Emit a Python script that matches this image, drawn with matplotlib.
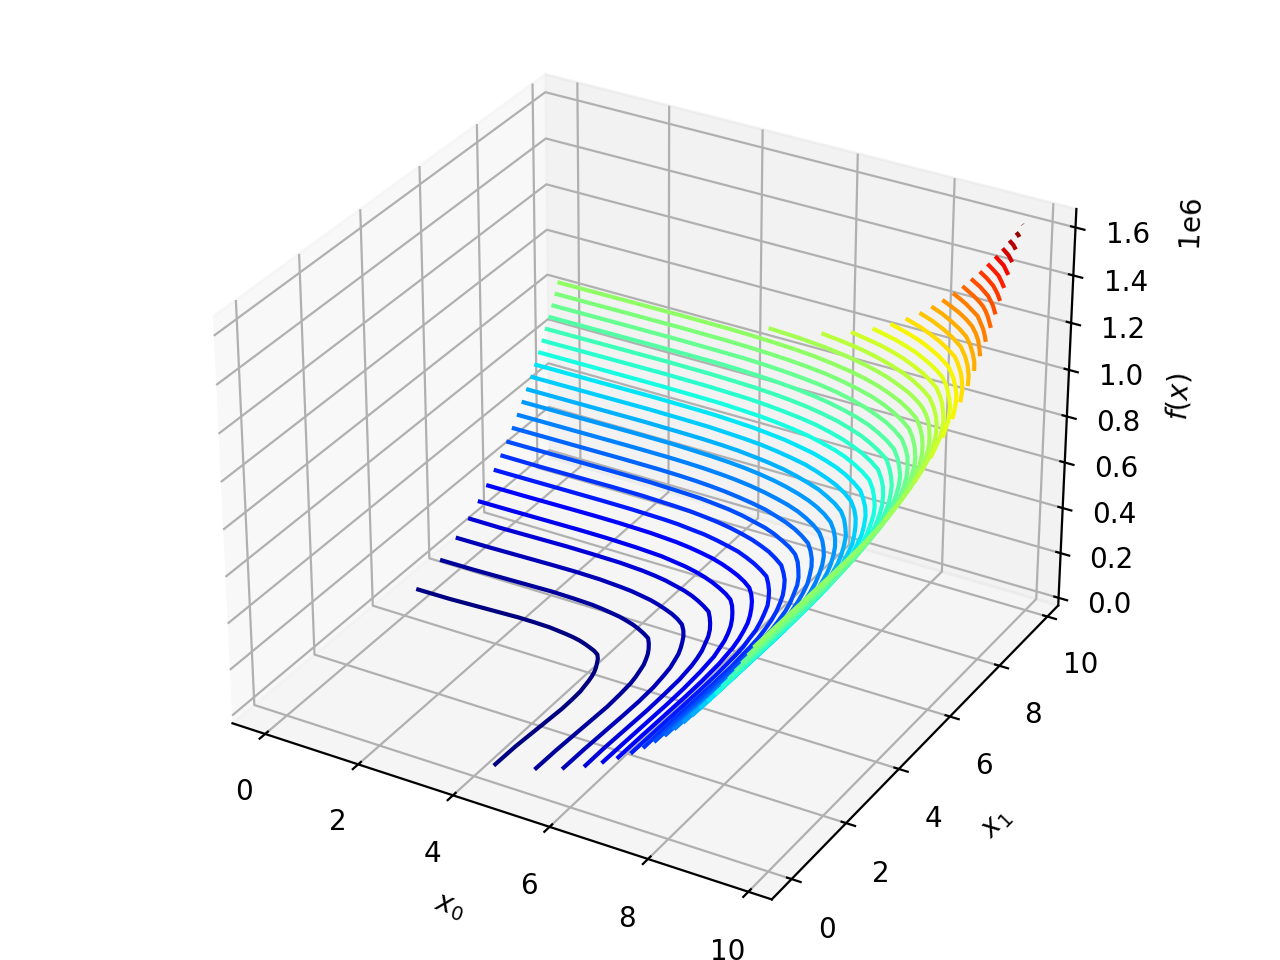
import matplotlib
matplotlib.use('Agg')
import matplotlib.pyplot as plt

# (x0, x1) points along each contour of f(x).
# The contours are symmetric about x0 = x1, so only the half with x0 <= x1 is kept.
c04 = [(0.00,4.42),(0.73,4.43),(2.20,4.51),(2.56,4.51),(2.88,4.50),(3.26,4.45),(3.43,4.42),(3.59,4.38),(3.73,4.33),(3.87,4.27),(4.00,4.21),(4.12,4.13)]
c08 = [(0.00,5.27),(0.74,5.28),(2.42,5.34),(2.89,5.33),(3.31,5.31),(3.54,5.28),(3.76,5.24),(3.97,5.20),(4.16,5.14),(4.33,5.08),(4.50,5.00),(4.66,4.91),(4.81,4.81)]
c12 = [(0.00,5.84),(0.73,5.85),(2.07,5.89),(2.59,5.90),(3.14,5.89),(3.61,5.85),(3.87,5.82),(4.11,5.77),(4.34,5.72),(4.55,5.65),(4.75,5.57),(4.93,5.49),(5.10,5.39),(5.26,5.27)]
c16 = [(0.00,6.29),(0.72,6.29),(2.15,6.33),(2.72,6.33),(3.33,6.32),(3.84,6.28),(4.12,6.24),(4.38,6.19),(4.62,6.12),(4.86,6.05),(5.08,5.96),(5.27,5.86),(5.45,5.75),(5.62,5.63)]
c20 = [(0.00,6.65),(0.71,6.66),(2.21,6.69),(2.83,6.69),(3.48,6.67),(4.04,6.63),(4.33,6.58),(4.61,6.53),(4.87,6.46),(5.11,6.38),(5.34,6.28),(5.55,6.17),(5.75,6.05),(5.92,5.92)]
c24 = [(0.00,6.96),(0.83,6.97),(2.36,7.00),(2.92,7.00),(3.61,6.98),(4.20,6.93),(4.52,6.88),(4.80,6.82),(5.08,6.75),(5.33,6.66),(5.56,6.56),(5.78,6.45),(5.99,6.32),(6.17,6.18)]
c28 = [(0.00,7.24),(0.83,7.25),(2.39,7.27),(3.00,7.27),(3.73,7.25),(4.05,7.23),(4.34,7.19),(4.66,7.15),(4.97,7.08),(5.26,7.00),(5.52,6.92),(5.76,6.81),(5.99,6.69),(6.21,6.55),(6.40,6.41)]
c32 = [(0.00,7.49),(0.84,7.49),(2.43,7.52),(3.09,7.52),(3.84,7.49),(4.17,7.47),(4.49,7.43),(4.82,7.38),(5.14,7.31),(5.42,7.23),(5.69,7.14),(5.94,7.03),(6.18,6.91),(6.39,6.77),(6.60,6.61)]
c36 = [(0.00,7.71),(0.84,7.72),(2.46,7.74),(3.16,7.74),(3.94,7.71),(4.28,7.69),(4.60,7.65),(4.94,7.60),(5.26,7.53),(5.56,7.44),(5.85,7.35),(6.10,7.24),(6.35,7.10),(6.58,6.96),(6.78,6.80)]
c40 = [(0.00,7.92),(2.50,7.95),(3.22,7.95),(3.65,7.94),(4.03,7.92),(4.38,7.89),(4.71,7.85),(5.06,7.79),(5.39,7.72),(5.70,7.64),(5.99,7.53),(6.26,7.42),(6.51,7.29),(6.74,7.14),(6.96,6.97)]
c44 = [(0.00,8.11),(2.53,8.14),(3.29,8.14),(3.73,8.13),(4.12,8.11),(4.48,8.08),(4.82,8.04),(5.17,7.98),(5.52,7.90),(5.83,7.81),(6.13,7.71),(6.41,7.59),(6.66,7.45),(6.89,7.30),(7.11,7.12)]
c48 = [(0.00,8.29),(2.55,8.32),(3.34,8.32),(3.80,8.30),(4.20,8.28),(4.58,8.25),(4.92,8.21),(5.28,8.15),(5.64,8.07),(5.95,7.98),(6.26,7.87),(6.54,7.75),(6.80,7.61),(7.04,7.45),(7.26,7.27)]
c52 = [(0.00,8.46),(2.59,8.49),(3.40,8.48),(3.87,8.47),(4.28,8.45),(4.66,8.42),(5.02,8.37),(5.39,8.31),(5.75,8.23),(6.08,8.13),(6.38,8.02),(6.67,7.90),(6.93,7.75),(7.18,7.59),(7.40,7.41)]
c56 = [(0.00,8.62),(2.61,8.65),(3.45,8.64),(3.92,8.63),(4.34,8.60),(4.73,8.57),(5.09,8.53),(5.48,8.46),(5.83,8.38),(6.17,8.29),(6.48,8.17),(6.77,8.04),(7.04,7.90),(7.30,7.73),(7.53,7.54)]
c60 = [(0.00,8.77),(2.64,8.80),(3.50,8.79),(3.98,8.78),(4.41,8.75),(4.81,8.72),(5.17,8.67),(5.56,8.61),(5.93,8.52),(6.27,8.43),(6.59,8.31),(6.89,8.18),(7.16,8.03),(7.42,7.85),(7.66,7.66)]
c64 = [(0.00,8.92),(2.66,8.94),(3.55,8.93),(4.04,8.92),(4.48,8.89),(4.88,8.86),(5.26,8.81),(5.66,8.74),(6.03,8.66),(6.38,8.55),(6.70,8.44),(6.99,8.31),(7.27,8.15),(7.53,7.98),(7.77,7.79)]
c68 = [(0.00,9.05),(2.68,9.08),(3.60,9.07),(4.09,9.05),(4.54,9.03),(4.95,8.99),(5.33,8.94),(5.75,8.87),(6.12,8.79),(6.47,8.68),(6.80,8.56),(7.10,8.42),(7.38,8.27),(7.65,8.09),(7.89,7.90)]
c72 = [(0.00,9.18),(2.71,9.21),(3.64,9.20),(4.14,9.18),(4.60,9.16),(5.02,9.12),(5.41,9.07),(5.82,9.00),(6.20,8.91),(6.55,8.81),(6.88,8.68),(7.20,8.54),(7.48,8.38),(7.75,8.20),(8.00,8.01)]
c76 = [(0.00,9.31),(2.72,9.33),(3.67,9.33),(4.19,9.31),(4.65,9.28),(5.08,9.24),(5.47,9.19),(5.88,9.12),(6.27,9.03),(6.64,8.92),(6.97,8.80),(7.29,8.66),(7.58,8.49),(7.85,8.31),(8.10,8.11)]
c80 = [(0.00,9.43),(2.75,9.45),(3.71,9.44),(4.23,9.43),(4.70,9.40),(5.13,9.36),(5.53,9.31),(5.95,9.24),(6.35,9.15),(6.71,9.04),(7.06,8.91),(7.38,8.76),(7.68,8.60),(7.94,8.42),(8.20,8.21)]
c84 = [(0.00,9.55),(2.77,9.57),(3.76,9.56),(4.28,9.54),(4.76,9.51),(5.20,9.47),(5.60,9.42),(6.03,9.35),(6.43,9.25),(6.80,9.14),(7.14,9.02),(7.46,8.87),(7.76,8.70),(8.04,8.51),(8.30,8.30)]
c88 = [(0.00,9.66),(2.78,9.68),(3.80,9.67),(4.33,9.65),(4.81,9.62),(5.25,9.58),(5.66,9.53),(6.09,9.45),(6.50,9.36),(6.87,9.25),(7.22,9.12),(7.54,8.97),(7.85,8.80),(8.13,8.61),(8.39,8.40)]
c92 = [(4.57,9.75),(5.23,9.70),(5.84,9.62),(6.38,9.51),(6.64,9.44),(6.88,9.37),(7.11,9.29),(7.34,9.20),(7.55,9.10),(7.76,8.99),(7.96,8.88),(8.14,8.76),(8.31,8.63),(8.48,8.48)]
c96 = [(5.69,9.75),(6.15,9.67),(6.58,9.58),(6.98,9.46),(7.35,9.32),(7.69,9.17),(8.01,8.99),(8.30,8.79),(8.57,8.57)]
c100 = [(6.31,9.75),(6.67,9.66),(7.01,9.57),(7.32,9.46),(7.63,9.33),(7.91,9.18),(8.18,9.02),(8.42,8.85),(8.65,8.66)]
c104 = [(6.76,9.75),(7.05,9.66),(7.34,9.57),(7.60,9.46),(7.86,9.34),(8.10,9.20),(8.32,9.06),(8.53,8.91),(8.73,8.74)]
c108 = [(7.13,9.75),(7.38,9.66),(7.61,9.57),(7.84,9.47),(8.05,9.36),(8.26,9.23),(8.46,9.10),(8.64,8.96),(8.81,8.82)]
c112 = [(7.44,9.75),(7.85,9.58),(8.22,9.38),(8.40,9.27),(8.57,9.15),(8.73,9.03),(8.89,8.90)]
c116 = [(7.72,9.75),(8.07,9.59),(8.40,9.40),(8.69,9.20),(8.97,8.97)]
c120 = [(7.96,9.75),(8.26,9.60),(8.53,9.43),(8.80,9.24),(9.04,9.04)]
c124 = [(8.18,9.75),(8.43,9.61),(8.68,9.46),(8.90,9.30),(9.11,9.12)]
c128 = [(8.39,9.75),(8.59,9.63),(8.80,9.49),(8.99,9.34),(9.18,9.19)]
c132 = [(8.58,9.75),(8.92,9.52),(9.09,9.39),(9.25,9.25)]
c136 = [(8.75,9.75),(9.04,9.55),(9.31,9.32)]
c140 = [(8.92,9.75),(9.15,9.58),(9.38,9.38)]
c144 = [(9.07,9.75),(9.26,9.60),(9.44,9.45)]
c148 = [(9.22,9.75),(9.51,9.51)]
c152 = [(9.36,9.75),(9.57,9.57)]
c156 = [(9.49,9.75),(9.63,9.63)]
c160 = [(9.62,9.75),(9.69,9.69)]
c164 = [(9.74,9.75)]

curves = [c04, c08, c12, c16, c20, c24, c28, c32, c36, c40, c44, c48, c52, c56,
          c60, c64, c68, c72, c76, c80, c84, c88, c92, c96, c100, c104, c108,
          c112, c116, c120, c124, c128, c132, c136, c140, c144, c148, c152,
          c156, c160, c164]
levels = [40000, 80000, 120000, 160000, 200000, 240000, 280000, 320000, 360000,
          400000, 440000, 480000, 520000, 560000, 600000, 640000, 680000, 720000,
          760000, 800000, 840000, 880000, 920000, 960000, 1000000, 1040000,
          1080000, 1120000, 1160000, 1200000, 1240000, 1280000, 1320000, 1360000,
          1400000, 1440000, 1480000, 1520000, 1560000, 1600000, 1640000]

x0_range = [0, 9.75]
x1_range = [0, 9.75]
f_range = [0, 1642352]

fig = plt.figure(dpi=200)
ax = fig.add_subplot(projection='3d')

norm = plt.Normalize(levels[0], levels[-1])
for level, half in zip(levels, curves):
    xs = [p[0] for p in half] + [p[1] for p in reversed(half)]
    ys = [p[1] for p in half] + [p[0] for p in reversed(half)]
    ax.plot(xs, ys, zs=level, color=plt.cm.jet(norm(level)), solid_capstyle='butt')

ax.auto_scale_xyz(x0_range, x1_range, f_range)
ax.set_xlabel('$x_0$')
ax.set_ylabel('$x_1$')
ax.set_zlabel('$f(x)$')
ax.set_position([0, 0, 1, 1])
fig.savefig('out.png')
